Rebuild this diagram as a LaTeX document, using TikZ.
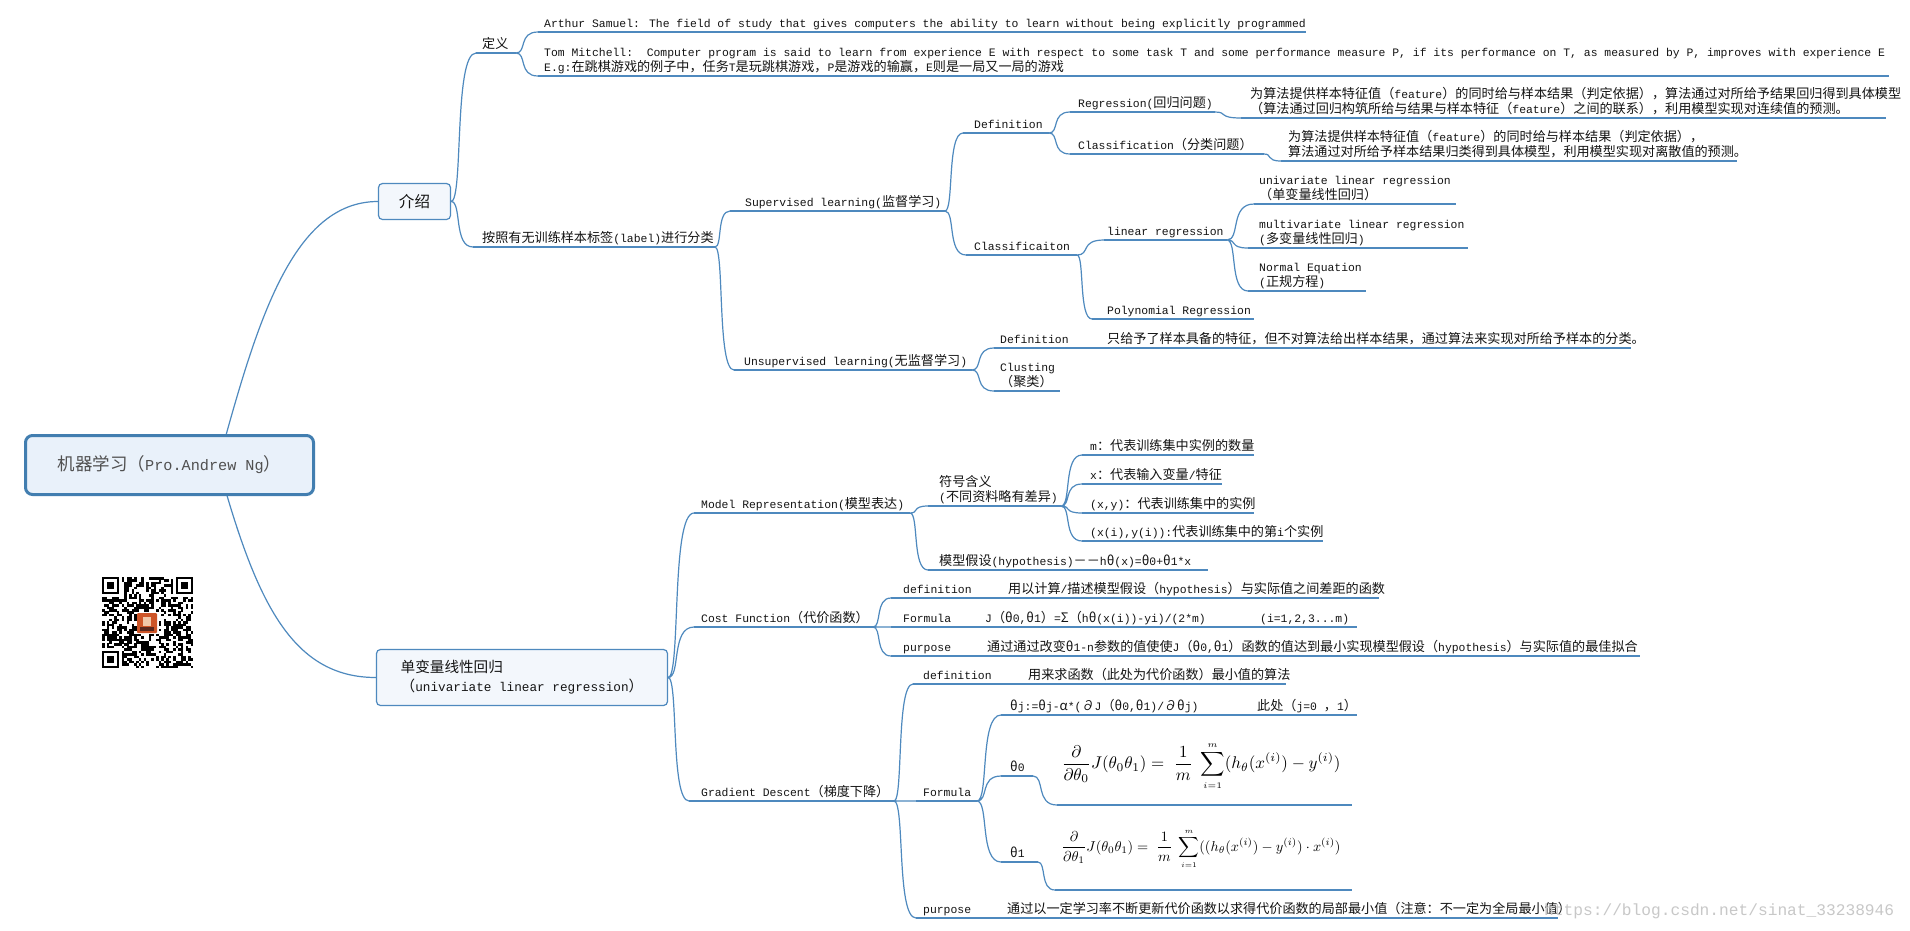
\documentclass[tikz,border=0pt]{standalone}
\usepackage[no-math]{fontspec}
\usepackage{graphicx}
\setmainfont{Liberation Mono}
\newfontfamily\cjkf[Scale=1.15]{Noto Sans CJK SC}
\usetikzlibrary{calc}
\XeTeXinterchartokenstate=1
\newXeTeXintercharclass\cjkcls
\newcount\cjkc
\def\setcjkrange#1#2{\cjkc=#1\relax\loop\XeTeXcharclass\cjkc=\cjkcls\advance\cjkc by 1\relax\ifnum\cjkc<#2\repeat}
\setcjkrange{"4E00}{"A000}
\setcjkrange{"3000}{"3040}
\setcjkrange{"FF00}{"FFF0}
\setcjkrange{"0391}{"03CA}
\setcjkrange{"2200}{"2300}
\XeTeXinterchartoks 0 \cjkcls = {\cjkf}
\XeTeXinterchartoks 4095 \cjkcls = {\cjkf}
\XeTeXinterchartoks \cjkcls 0 = {\rmfamily}
\definecolor{lnc}{RGB}{78,137,190}
\definecolor{rootb}{RGB}{66,126,176}
\definecolor{rootf}{RGB}{233,241,250}
\definecolor{boxf}{RGB}{243,247,252}
\definecolor{txtc}{RGB}{20,20,20}
\definecolor{roottxt}{RGB}{80,80,80}
\definecolor{wmc}{RGB}{200,200,200}
\definecolor{logoc}{RGB}{205,85,40}
\definecolor{logof}{RGB}{240,200,170}
\definecolor{logod}{RGB}{90,40,30}
\newcommand\tpc[6]{\coordinate (#1-s) at (#2,#4);\coordinate (#1-e) at (#3,#4);\draw[uline] (#1-s) -- (#1-e);\node[txt] (#1) at (#5,#4-5) {#6};}
\newcommand\ml[2]{\vbox{\baselineskip=14.5pt\lineskiplimit=-100pt\hbox{#1}\hbox{#2}}}
\begin{document}
\begin{tikzpicture}[x=1pt,y=-1pt,
 cline/.style={draw=lnc,line width=1.2pt},
 uline/.style={draw=lnc,line width=1.3pt},
 conn/.style={cline,to path={let \p1=(\tikztostart),\p2=(\tikztotarget) in .. controls ({\x1+0.5*(\x2-\x1)},\y1) and ({\x1+0.1*(\x2-\x1)},\y2) .. (\tikztotarget)}},
 txt/.style={anchor=base west,inner sep=0pt,font=\fontsize{11.4}{14.5}\selectfont,text=txtc},
 rootbox/.style={draw=rootb,line width=3pt,fill=rootf,rounded corners=7pt,minimum width=288pt,minimum height=59pt,inner sep=0pt,text=roottxt,font=\fontsize{15.2}{18}\selectfont},
 topbox/.style={draw=lnc,line width=1.2pt,fill=boxf,rounded corners=4pt,inner sep=0pt,text=txtc},
]
\fill[white] (0,0) rectangle (1910,930);
\useasboundingbox (0,0) rectangle (1910,930);

% ---------- root connectors (behind boxes)
\coordinate (rootc) at (218,464);
\node[topbox,minimum width=72pt,minimum height=36pt,font=\fontsize{13.5}{16}\selectfont] (intro) at (414.5,201.5) {介绍};
\node[topbox,minimum width=291pt,minimum height=56pt,font=\fontsize{12.7}{15}\selectfont] (uv) at (522,677.5) {\vbox{\baselineskip=19pt\lineskiplimit=-100pt\hbox{单变量线性回归}\hbox{（univariate linear regression）}}};
\draw[cline] (rootc) .. controls (255,330) and (290,201.5) .. (intro.west);
\draw[cline] (rootc) .. controls (255,598) and (290,677.5) .. (uv.west);
\node[rootbox] (root) at (169.5,465) {机器学习（Pro.Andrew Ng）};

% ---------- 介绍 branch
\tpc{dingyi}{476}{516}{53}{482}{定义}
\tpc{arthur}{538}{1306}{32}{544}{Arthur Samuel: The field of study that gives computers the ability to learn without being explicitly programmed}
\tpc{tom}{538}{1889}{76}{544}{\ml{Tom Mitchell:\ \ Computer program is said to learn from experience E with respect to some task T and some performance measure P, if its performance on T, as measured by P, improves with experience E}{E.g:在跳棋游戏的例子中，任务T是玩跳棋游戏，P是游戏的输赢，E则是一局又一局的游戏}}
\tpc{anzhao}{473}{715}{247}{482}{按照有无训练样本标签(label)进行分类}
\tpc{sup}{730}{945}{211}{745}{Supervised learning(监督学习)}
\tpc{sdef}{963}{1049}{133}{974}{Definition}
\tpc{reg}{1070}{1215}{112}{1078}{Regression(回归问题)}
\tpc{regd}{1241}{1886}{118}{1250}{\ml{为算法提供样本特征值（feature）的同时给与样本结果（判定依据），算法通过对所给予结果回归得到具体模型}{（算法通过回归构筑所给与结果与样本特征（feature）之间的联系），利用模型实现对连续值的预测。}}
\tpc{cls}{1070}{1264}{154}{1078}{Classification（分类问题）}
\tpc{clsd}{1281}{1737}{161}{1288}{\ml{为算法提供样本特征值（feature）的同时给与样本结果（判定依据），}{算法通过对所给予样本结果归类得到具体模型，利用模型实现对离散值的预测。}}
\tpc{clf}{966}{1077}{255}{974}{Classificaiton}
\tpc{linreg}{1104}{1227}{240}{1107}{linear regression}
\tpc{poly}{1092}{1254}{319}{1107}{Polynomial Regression}
\tpc{uni}{1254}{1456}{204}{1259}{\ml{univariate linear regression}{（单变量线性回归）}}
\tpc{multi}{1248}{1468}{248}{1259}{\ml{multivariate linear regression}{(多变量线性回归)}}
\tpc{normal}{1248}{1366}{291}{1259}{\ml{Normal Equation}{(正规方程)}}
\tpc{unsup}{734}{972}{370}{744}{Unsupervised learning(无监督学习)}
\tpc{udef}{994}{1085}{348}{1000}{Definition}
\tpc{udefd}{1095}{1631}{348}{1107}{只给予了样本具备的特征，但不对算法给出样本结果，通过算法来实现对所给予样本的分类。}
\tpc{clus}{994}{1060}{391}{1000}{\ml{Clusting}{（聚类）}}

\draw[conn] (intro.east) to (dingyi-s) (intro.east) to (anzhao-s);
\draw[conn] (dingyi-e) to (arthur-s) (dingyi-e) to (tom-s);
\draw[conn] (anzhao-e) to (sup-s) (anzhao-e) to (unsup-s);
\draw[conn] (sup-e) to (sdef-s) (sup-e) to (clf-s);
\draw[conn] (sdef-e) to (reg-s) (sdef-e) to (cls-s);
\draw[conn] (reg-e) to (regd-s) (cls-e) to (clsd-s);
\draw[conn] (clf-e) to (linreg-s) (clf-e) to (poly-s);
\draw[conn] (linreg-e) to (uni-s) (linreg-e) to (multi-s) (linreg-e) to (normal-s);
\draw[conn] (unsup-e) to (udef-s) (unsup-e) to (clus-s);
\draw[cline] (udef-e) -- (udefd-s);

% ---------- 单变量 branch
\tpc{mr}{694}{910}{513}{701}{Model Representation(模型表达)}
\tpc{fh}{928}{1061}{506}{939}{\ml{符号含义}{(不同资料略有差异)}}
\tpc{sm}{1082}{1254}{455}{1090}{m：代表训练集中实例的数量}
\tpc{sx}{1082}{1222}{484}{1090}{x：代表输入变量/特征}
\tpc{sxy}{1082}{1254}{513}{1090}{(x,y)：代表训练集中的实例}
\tpc{sxi}{1082}{1323}{541}{1090}{(x(i),y(i)):代表训练集中的第i个实例}
\tpc{hyp}{928}{1208}{570}{939}{模型假设(hypothesis)－－hθ(x)=θ0+θ1*x}
\tpc{cf}{694}{873}{627}{701}{Cost Function（代价函数）}
\tpc{cfdef}{891}{985}{598}{903}{definition}
\tpc{cfdefd}{995}{1379}{598}{1008}{用以计算/描述模型假设（hypothesis）与实际值之间差距的函数}
\tpc{cfform}{891}{965}{627}{903}{Formula}
\tpc{cfformd}{975}{1357}{627}{985}{\makebox[275pt][l]{J（θ0,θ1）=Σ（hθ(x(i))-yi)/(2*m)}(i=1,2,3...m)}
\tpc{cfpur}{891}{965}{656}{903}{purpose}
\tpc{cfpurd}{977}{1640}{656}{987}{通过通过改变θ1-n参数的值使使J（θ0,θ1）函数的值达到最小实现模型假设（hypothesis）与实际值的最佳拟合}
\tpc{gd}{689}{894}{801}{701}{Gradient Descent（梯度下降）}
\tpc{gddef}{913}{1005}{684}{923}{definition}
\tpc{gddefd}{1012}{1286}{684}{1028}{用来求函数（此处为代价函数）最小值的算法}
\tpc{gdform}{916}{977}{801}{923}{Formula}
\tpc{gdj}{1001}{1357}{715}{1010}{\makebox[247pt][l]{θj:=θj-α*(∂J（θ0,θ1)/∂θj)}此处（j=0 ，1）}
\tpc{th0}{1001}{1033}{776}{1010}{θ0}
\coordinate (th0f-s) at (1057,805);\coordinate (th0f-e) at (1352,805);
\draw[uline] (th0f-s) -- (th0f-e);
\node[inner sep=0pt] (f0) at (1201,766) {\resizebox{279pt}{!}{$\displaystyle\frac{\partial}{\partial\theta_0}J(\theta_0\theta_1)=\;\frac{1}{m}\;\sum_{\scriptscriptstyle i=1}^{\scriptscriptstyle m}(h_\theta(x^{(i)})-y^{(i)})$}};
\tpc{th1}{1001}{1038}{862}{1010}{θ1}
\coordinate (th1f-s) at (1055,890);\coordinate (th1f-e) at (1352,890);
\draw[uline] (th1f-s) -- (th1f-e);
\node[inner sep=0pt] (f1) at (1201,849) {\resizebox{279pt}{!}{$\displaystyle\frac{\partial}{\partial\theta_1}J(\theta_0\theta_1)=\;\frac{1}{m}\;\sum_{\scriptscriptstyle i=1}^{\scriptscriptstyle m}((h_\theta(x^{(i)})-y^{(i)})\cdot x^{(i)})$}};
\tpc{gdpur}{916}{985}{918}{923}{purpose}
\tpc{gdpurd}{995}{1558}{918}{1007}{通过以一定学习率不断更新代价函数以求得代价函数的局部最小值（注意：不一定为全局最小值）}

\draw[conn] (uv.east) to (mr-s) (uv.east) to (cf-s) (uv.east) to (gd-s);
\draw[conn] (mr-e) to (fh-s) (mr-e) to (hyp-s);
\draw[conn] (fh-e) to (sm-s) (fh-e) to (sx-s) (fh-e) to (sxy-s) (fh-e) to (sxi-s);
\draw[conn] (cf-e) to (cfdef-s) (cf-e) to (cfform-s) (cf-e) to (cfpur-s);
\draw[cline] (cfdef-e) -- (cfdefd-s) (cfform-e) -- (cfformd-s) (cfpur-e) -- (cfpurd-s);
\draw[conn] (gd-e) to (gddef-s) (gd-e) to (gdform-s) (gd-e) to (gdpur-s);
\draw[cline] (gddef-e) -- (gddefd-s) (gdpur-e) -- (gdpurd-s);
\draw[conn] (gdform-e) to (gdj-s) (gdform-e) to (th0-s) (gdform-e) to (th1-s);
\draw[conn] (th0-e) to (th0f-s) (th1-e) to (th1f-s);

% ---------- watermark
\node[anchor=base west,inner sep=0pt,font=\fontsize{16.2}{18}\selectfont,text=wmc] (wmk) at (1544,915) {https://blog.csdn.net/sinat\_33238946};

% ---------- QR code
\begin{scope}[shift={(102,577)}]
\pgfmathsetseed{2024}
\foreach \i in {0,...,36}{\foreach \j in {0,...,36}{
  \pgfmathtruncatemacro\qrs{(\i<8)*(\j<8)+(\i>28)*(\j<8)+(\i<8)*(\j>28)+(\i>13)*(\i<23)*(\j>13)*(\j<23)}
  \pgfmathtruncatemacro\qrb{rnd<0.5}
  \ifnum\qrs=0 \ifnum\qrb=1 \fill[black] ({\i*2.46},{\j*2.46}) rectangle ++(2.56,2.56);\fi\fi
}}
\foreach \fx/\fy in {0/0,30/0,0/30}{
  \fill[black] ({\fx*2.46},{\fy*2.46}) rectangle +(17.22,17.22);
  \fill[white] ({(\fx+1)*2.46},{(\fy+1)*2.46}) rectangle +(12.3,12.3);
  \fill[black] ({(\fx+2)*2.46},{(\fy+2)*2.46}) rectangle +(7.38,7.38);
}
\fill[logoc,rounded corners=1pt] (35,36) rectangle (55,56);
\fill[logof] (41,40) rectangle (49,49);
\fill[logod] (38,50) rectangle (52,54);
\end{scope}
\end{tikzpicture}
\end{document}
